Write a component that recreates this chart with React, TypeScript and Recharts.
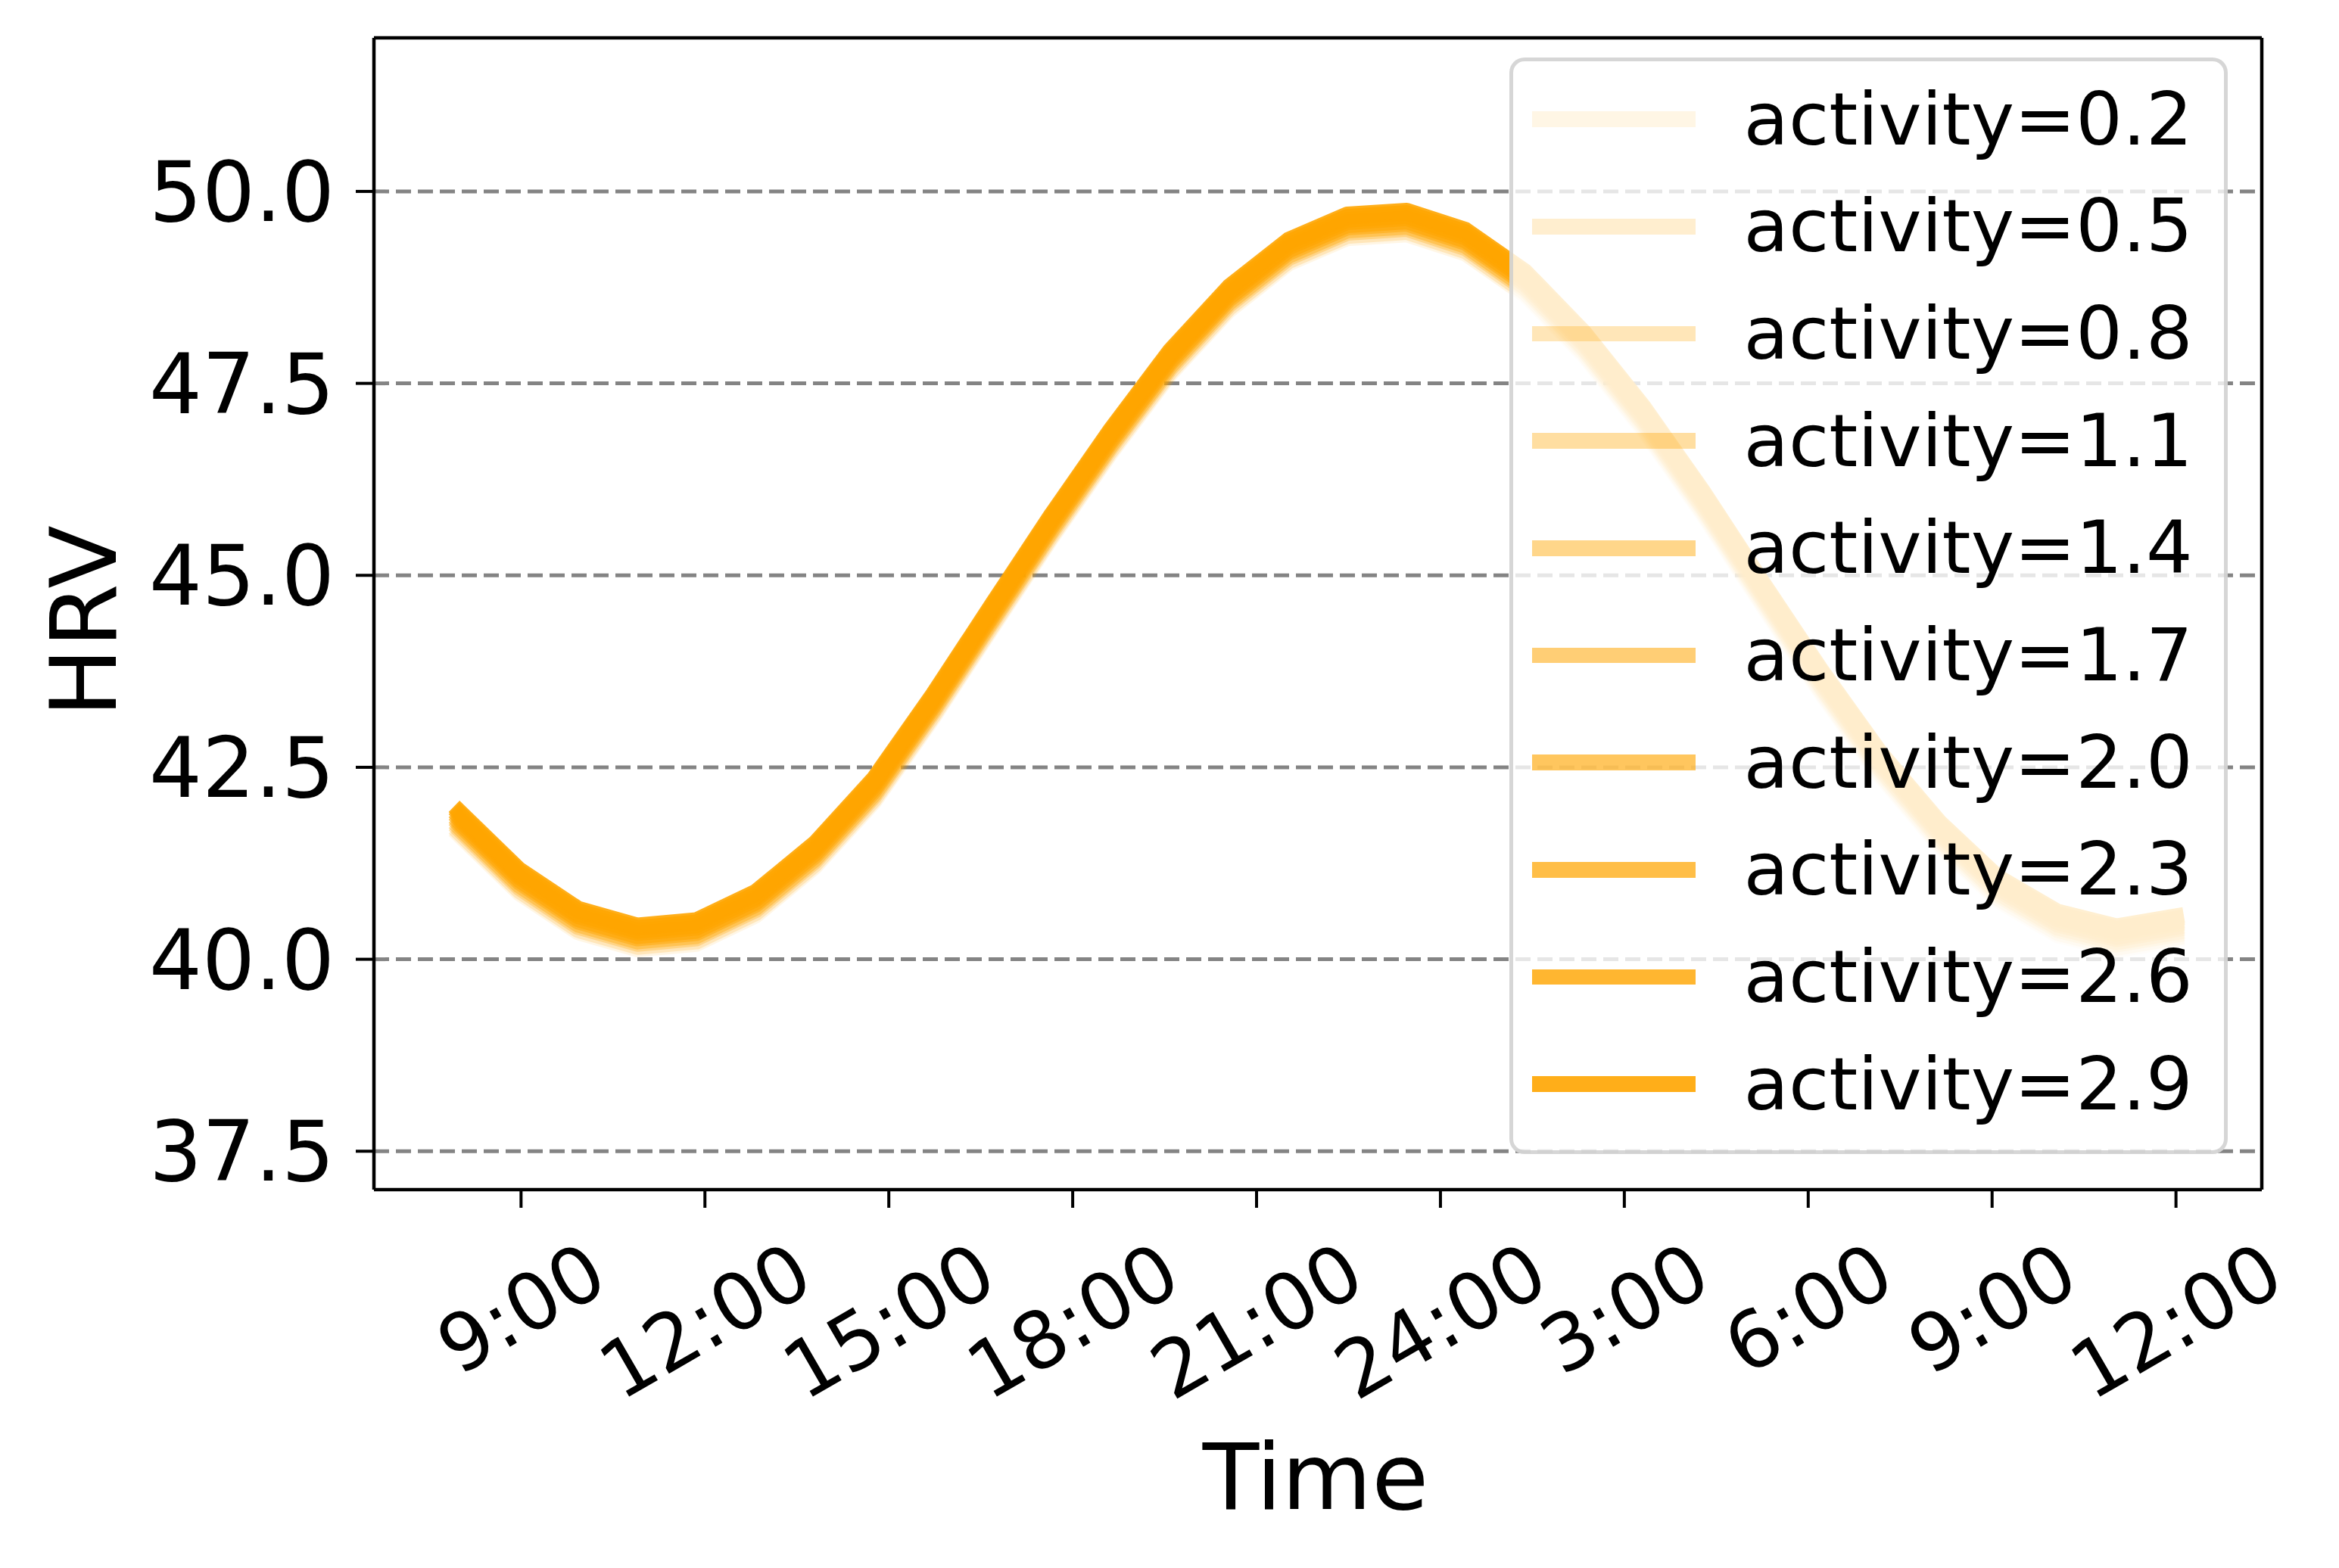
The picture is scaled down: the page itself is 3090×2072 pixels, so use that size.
import React from 'react';
import { LineChart, Line, XAxis, YAxis, CartesianGrid, Legend, ReferenceLine } from 'recharts';

const FONT = '"DejaVu Sans", "Liberation Sans", sans-serif';
const ORANGE = '#FFA500';

// time of each sample, hours since midnight of the first day (8:00 .. 12:00 next day)
const hours = [
  8.0, 8.97, 9.93, 10.9, 11.86, 12.83, 13.79, 14.76, 15.72, 16.69,
  17.66, 18.62, 19.59, 20.55, 21.52, 22.48, 23.45, 24.41, 25.38, 26.34,
  27.31, 28.28, 29.24, 30.21, 31.17, 32.14, 33.1, 34.07, 35.03, 36.0,
];

const activities = [0.2, 0.5, 0.8, 1.1, 1.4, 1.7, 2.0, 2.3, 2.6, 2.9];
const alphas = [0.1, 0.19, 0.28, 0.37, 0.46, 0.54, 0.63, 0.72, 0.81, 0.9];

const hrv02 = [41.61, 40.86, 40.35, 40.13, 40.2, 40.57, 41.2, 42.05, 43.14, 44.32, 45.49, 46.59, 47.62, 48.45, 49.06, 49.39, 49.44, 49.19, 48.65, 47.86, 46.89, 45.79, 44.62, 43.46, 42.39, 41.48, 40.76, 40.31, 40.12, 40.25];
const hrv05 = [41.64, 40.89, 40.38, 40.16, 40.23, 40.6, 41.23, 42.08, 43.17, 44.35, 45.52, 46.62, 47.65, 48.48, 49.09, 49.42, 49.47, 49.22, 48.68, 47.89, 46.92, 45.82, 44.65, 43.49, 42.42, 41.51, 40.79, 40.34, 40.15, 40.28];
const hrv08 = [41.68, 40.93, 40.42, 40.2, 40.27, 40.64, 41.27, 42.12, 43.21, 44.39, 45.56, 46.66, 47.69, 48.52, 49.13, 49.46, 49.51, 49.26, 48.72, 47.93, 46.96, 45.86, 44.69, 43.53, 42.46, 41.55, 40.83, 40.38, 40.19, 40.32];
const hrv11 = [41.71, 40.96, 40.45, 40.23, 40.3, 40.67, 41.3, 42.15, 43.24, 44.42, 45.59, 46.69, 47.72, 48.55, 49.16, 49.49, 49.54, 49.29, 48.75, 47.96, 46.99, 45.89, 44.72, 43.56, 42.49, 41.58, 40.86, 40.41, 40.22, 40.35];
const hrv14 = [41.75, 41.0, 40.49, 40.27, 40.34, 40.71, 41.34, 42.19, 43.28, 44.46, 45.63, 46.73, 47.76, 48.59, 49.2, 49.53, 49.58, 49.33, 48.79, 48.0, 47.03, 45.93, 44.76, 43.6, 42.53, 41.62, 40.9, 40.45, 40.26, 40.39];
const hrv17 = [41.78, 41.03, 40.52, 40.3, 40.37, 40.74, 41.37, 42.22, 43.31, 44.49, 45.66, 46.76, 47.79, 48.62, 49.23, 49.56, 49.61, 49.36, 48.82, 48.03, 47.06, 45.96, 44.79, 43.63, 42.56, 41.65, 40.93, 40.48, 40.29, 40.42];
const hrv20 = [41.82, 41.07, 40.56, 40.34, 40.41, 40.78, 41.41, 42.26, 43.35, 44.53, 45.7, 46.8, 47.83, 48.66, 49.27, 49.6, 49.65, 49.4, 48.86, 48.07, 47.1, 46.0, 44.83, 43.67, 42.6, 41.69, 40.97, 40.52, 40.33, 40.46];
const hrv23 = [41.85, 41.1, 40.59, 40.37, 40.44, 40.81, 41.44, 42.29, 43.38, 44.56, 45.73, 46.83, 47.86, 48.69, 49.3, 49.63, 49.68, 49.43, 48.89, 48.1, 47.13, 46.03, 44.86, 43.7, 42.63, 41.72, 41.0, 40.55, 40.36, 40.49];
const hrv26 = [41.89, 41.14, 40.63, 40.41, 40.48, 40.85, 41.48, 42.33, 43.42, 44.6, 45.77, 46.87, 47.9, 48.73, 49.34, 49.67, 49.72, 49.47, 48.93, 48.14, 47.17, 46.07, 44.9, 43.74, 42.67, 41.76, 41.04, 40.59, 40.4, 40.53];
const hrv29 = [41.92, 41.17, 40.66, 40.44, 40.51, 40.88, 41.51, 42.36, 43.45, 44.63, 45.8, 46.9, 47.93, 48.76, 49.37, 49.7, 49.75, 49.5, 48.96, 48.17, 47.2, 46.1, 44.93, 43.77, 42.7, 41.79, 41.07, 40.62, 40.43, 40.56];

const hrvByActivity = [hrv02, hrv05, hrv08, hrv11, hrv14, hrv17, hrv20, hrv23, hrv26, hrv29];

const xDomain = [6.6, 37.4];
const yDomain = [37, 52];
const xTickHours = [9, 12, 15, 18, 21, 24, 27, 30, 33, 36];
const xTickLabels = ['9:00', '12:00', '15:00', '18:00', '21:00', '24:00', '3:00', '6:00', '9:00', '12:00'];
const yTicks = [37.5, 40, 42.5, 45, 47.5, 50];

const data = hours.map((t, i) => {
  const row: Record<string, number> = { t };
  activities.forEach((_, j) => {
    row[`a${j}`] = hrvByActivity[j][i];
  });
  return row;
});

function TimeTick(props: any) {
  const { x, y, payload } = props;
  const label = xTickLabels[xTickHours.indexOf(payload.value)] ?? '';
  const fs = 104;
  // rotated label: top of its box sits at y, centred under the tick
  const inkW = (label.replace(':', '').length * 0.636 + 0.237) * fs;
  const boxH = inkW * 0.5 + 0.729 * fs * 0.866;
  const cy = y + boxH / 2;
  return (
    <text
      x={x}
      y={cy}
      dy="0.355em"
      textAnchor="middle"
      transform={`rotate(-30, ${x}, ${cy})`}
      fontSize={fs}
      fontFamily={FONT}
      fill="#000"
    >
      {label}
    </text>
  );
}

const renderHrvLabel = (props: any) => {
  const { viewBox } = props;
  const cx = viewBox.x + 110;
  const cy = viewBox.y + viewBox.height / 2 + 10;
  return (
    <text
      x={cx}
      y={cy}
      dy="0.355em"
      textAnchor="middle"
      transform={`rotate(-90, ${cx}, ${cy})`}
      fontSize={122}
      fontFamily={FONT}
      fill="#000"
    >
      HRV
    </text>
  );
};

const renderTimeLabel = (props: any) => {
  const { viewBox } = props;
  return (
    <text
      x={viewBox.x + viewBox.width / 2 - 3}
      y={viewBox.y + 422}
      textAnchor="middle"
      fontSize={122}
      fontFamily={FONT}
      fill="#000"
    >
      Time
    </text>
  );
};

function ActivityLegend() {
  return (
    <div
      style={{
        boxSizing: 'border-box',
        position: 'relative',
        width: 949,
        height: 1449,
        border: '5px solid rgba(204,204,204,0.8)',
        borderRadius: 20,
        background: 'rgba(255,255,255,0.8)',
        fontFamily: FONT,
      }}
    >
      {activities.map((a, j) => {
        const cy = 77 + j * 141.7;
        return (
          <React.Fragment key={a}>
            <div
              style={{
                position: 'absolute',
                left: 25.5,
                top: cy - 10.4,
                width: 216,
                height: 20.8,
                background: `rgba(255,165,0,${alphas[j]})`,
              }}
            />
            <div
              style={{
                position: 'absolute',
                left: 305,
                top: cy - 60,
                height: 120,
                lineHeight: '120px',
                fontSize: 97,
                color: '#000',
                whiteSpace: 'nowrap',
              }}
            >
              activity={a.toFixed(1)}
            </div>
          </React.Fragment>
        );
      })}
    </div>
  );
}

export default function App() {
  return (
    <div style={{ position: 'absolute', left: 0, top: 0, width: 3090, height: 2072, background: '#fff' }}>
      <LineChart width={3090} height={2072} data={data} margin={{ top: 50, right: 102, bottom: 0, left: 0 }}>
        <CartesianGrid
          horizontal
          vertical={false}
          syncWithTicks
          stroke="#848484"
          strokeWidth={5}
          strokeDasharray="20 9"
        />
        <XAxis
          dataKey="t"
          type="number"
          domain={xDomain}
          allowDataOverflow
          ticks={xTickHours}
          interval={0}
          height={500}
          tickSize={24}
          tickMargin={44}
          tick={<TimeTick />}
          tickLine={{ stroke: '#000', strokeWidth: 4 }}
          axisLine={{ stroke: '#000', strokeWidth: 4.5 }}
          label={renderTimeLabel}
        />
        <YAxis
          type="number"
          domain={yDomain}
          allowDataOverflow
          ticks={yTicks}
          interval={0}
          width={494}
          tickSize={24}
          tickMargin={28}
          tickFormatter={(v: number) => v.toFixed(1)}
          tick={{ fill: '#000', fontSize: 110, fontFamily: FONT }}
          tickLine={{ stroke: '#000', strokeWidth: 4 }}
          axisLine={{ stroke: '#000', strokeWidth: 4.5 }}
          label={renderHrvLabel}
        />
        {/* top and right spines of the frame */}
        <ReferenceLine y={yDomain[1]} stroke="#000" strokeWidth={4.5} ifOverflow="visible" />
        <ReferenceLine x={xDomain[1]} stroke="#000" strokeWidth={4.5} ifOverflow="visible" />
        {activities.map((a, j) => (
          <Line
            key={a}
            type="linear"
            dataKey={`a${j}`}
            name={`activity=${a.toFixed(1)}`}
            stroke={ORANGE}
            strokeOpacity={alphas[j]}
            strokeWidth={20.8}
            strokeLinecap="square"
            strokeLinejoin="round"
            dot={false}
            activeDot={false}
            isAnimationActive={false}
          />
        ))}
        <Legend
          layout="vertical"
          align="center"
          verticalAlign="middle"
          content={() => <ActivityLegend />}
          wrapperStyle={{ left: 1993.5, top: 75.5, width: 949, height: 1449 }}
        />
      </LineChart>
    </div>
  );
}
